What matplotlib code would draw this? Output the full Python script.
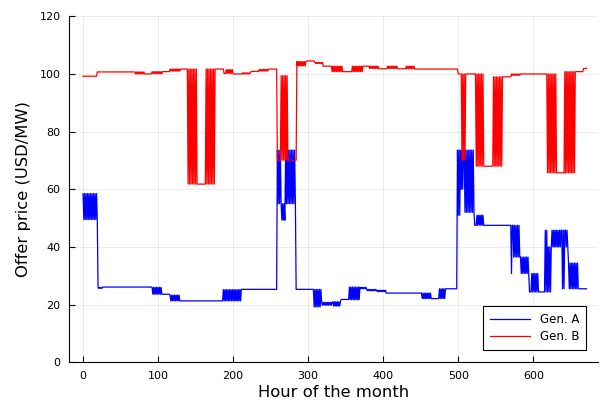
import matplotlib
matplotlib.use("Agg")
import matplotlib.pyplot as plt
from matplotlib.lines import Line2D
import numpy as np

# (first hour, end hour, upper value, lower value);
# where upper != lower the price flips between the two hour by hour
gen_a_steps = [
    (0, 20, 58.5, 49.5), (20, 27, 26.0, 25.6), (27, 92, 26.1, 26.1),
    (92, 105, 26.0, 23.6), (105, 116, 23.6, 23.6), (116, 130, 23.3, 21.3),
    (130, 187, 21.3, 21.3), (187, 211, 25.2, 21.3), (211, 259, 25.3, 25.3),
    (259, 264, 73.6, 55.0), (264, 270, 55.0, 49.3), (270, 284, 73.6, 55.0),
    (284, 307, 25.3, 25.3), (307, 318, 25.3, 19.2), (318, 333, 20.8, 19.8),
    (333, 344, 21.0, 19.5), (344, 355, 21.8, 21.8), (355, 369, 26.1, 21.7),
    (369, 378, 26.0, 25.5), (378, 391, 25.3, 24.8), (391, 404, 25.0, 24.5),
    (404, 451, 24.0, 24.0), (451, 464, 24.0, 22.1), (464, 475, 22.1, 22.1),
    (475, 483, 25.5, 22.1), (483, 499, 25.5, 25.5), (499, 503, 73.6, 51.0),
    (503, 508, 73.6, 60.0), (508, 522, 73.6, 52.0), (522, 525, 47.5, 47.5),
    (525, 534, 51.0, 47.5), (534, 570, 47.5, 47.5), (570, 573, 47.5, 30.8),
    (573, 583, 47.5, 36.5), (583, 595, 36.5, 30.8), (595, 598, 24.4, 24.4),
    (598, 607, 30.8, 24.4), (607, 616, 24.4, 24.4), (616, 620, 45.8, 24.4),
    (620, 625, 40.0, 24.4), (625, 638, 45.8, 40.0), (638, 643, 45.8, 25.5),
    (643, 647, 45.8, 40.0), (647, 660, 34.4, 25.5), (660, 672, 25.5, 25.5),
]

gen_b_steps = [
    (0, 19, 99.2, 99.2), (19, 69, 100.7, 100.7), (69, 82, 100.7, 100.0),
    (82, 92, 100.0, 100.0), (92, 107, 100.8, 100.1), (107, 116, 100.8, 100.8),
    (116, 131, 101.7, 101.0), (131, 139, 101.7, 101.7), (139, 152, 101.7, 61.8),
    (152, 164, 61.8, 61.8), (164, 177, 101.7, 61.8), (177, 188, 101.7, 101.7),
    (188, 191, 100.2, 100.2), (191, 200, 101.5, 100.2), (200, 213, 100.0, 100.0),
    (213, 224, 100.4, 100.0), (224, 235, 100.9, 100.9), (235, 248, 101.6, 101.0),
    (248, 259, 101.7, 101.7), (259, 264, 70.1, 70.1), (264, 273, 99.4, 70.1),
    (273, 285, 70.1, 70.1), (285, 298, 104.3, 102.8), (298, 309, 104.5, 104.5),
    (309, 320, 104.0, 103.6), (320, 331, 102.7, 102.7), (331, 346, 102.7, 100.8),
    (346, 359, 100.8, 100.8), (359, 373, 102.7, 100.8), (373, 381, 102.7, 102.7),
    (381, 395, 102.7, 101.9), (395, 406, 101.8, 101.8), (406, 420, 102.7, 101.9),
    (420, 431, 101.8, 101.8), (431, 442, 102.7, 101.8), (442, 500, 101.7, 101.7),
    (500, 504, 100.0, 100.0), (504, 511, 100.0, 70.1), (511, 523, 100.0, 100.0),
    (523, 534, 100.0, 68.0), (534, 547, 68.0, 68.0), (547, 560, 99.0, 68.0),
    (560, 571, 99.0, 99.0), (571, 584, 100.0, 99.5), (584, 618, 100.0, 100.0),
    (618, 631, 100.0, 65.7), (631, 642, 65.7, 65.7), (642, 657, 100.8, 65.7),
    (657, 667, 100.8, 100.8), (667, 672, 101.9, 101.9),
]

series_names = ["Gen. A", "Gen. B"]
series_colors = ["#0000ff", "#ff0000"]


def expand(steps):
    hours, prices = [], []
    for start, end, hi, lo in steps:
        for h in range(start, end):
            hours.append(h)
            prices.append(hi if (h - start) % 2 == 0 else lo)
    return np.array(hours), np.array(prices)


fig = plt.figure(figsize=(6, 4.03), dpi=100)
ax = fig.add_axes([0.115, 0.101, 0.8817, 0.8586])

handles = []
for steps, name, col in zip([gen_a_steps, gen_b_steps], series_names, series_colors):
    x, y = expand(steps)
    ax.plot(x, y, color=col, lw=0.9)
    handles.append(Line2D([], [], color=col, lw=0.9, label=name))

ax.set_xlim(-18.7, 686.3)
ax.set_ylim(0, 120)
ax.set_xticks([0, 100, 200, 300, 400, 500, 600])
ax.set_yticks([0, 20, 40, 60, 80, 100, 120])
ax.grid(True, color="black", alpha=0.1, lw=0.5)
ax.spines["top"].set_visible(False)
ax.spines["right"].set_visible(False)
for s in ["left", "bottom"]:
    ax.spines[s].set_linewidth(0.8)
ax.tick_params(direction="in", length=4, width=0.8, labelsize=8, colors="black", pad=6)
ax.set_xlabel("Hour of the month", fontsize=11.8, labelpad=3)
ax.set_ylabel("Offer price (USD/MW)", fontsize=11.8, labelpad=6)

leg = ax.legend(handles=handles, loc="lower right", fontsize=8.5, fancybox=False,
                framealpha=1, edgecolor="black", handlelength=3.4,
                labelspacing=0.35, borderpad=0.6, borderaxespad=1.0)
leg.get_frame().set_linewidth(0.8)

fig.savefig("out.png", dpi=100)
